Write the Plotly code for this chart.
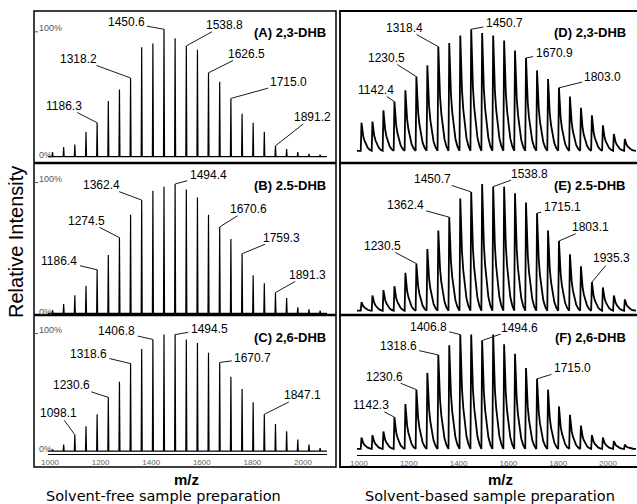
import plotly.graph_objects as go

# ---------------- data ----------------
MZ = [1010.0, 1054.0, 1098.1, 1142.3, 1186.3, 1230.5, 1274.5, 1318.5, 1362.4,
      1406.7, 1450.6, 1494.5, 1538.8, 1582.8, 1626.5, 1670.7, 1715.0, 1759.2,
      1803.0, 1847.1, 1891.2, 1935.3, 1979.4, 2023.5, 2067.6]

INT_A = [4, 8, 10, 20, 27, 44, 53, 62, 86, 89, 100, 93, 87, 84, 66, 59, 46, 34, 27, 20, 9, 6.5, 4, 2.6, 2]
INT_B = [3, 7.5, 14, 21, 33, 44, 57, 74, 85, 92, 95, 97, 93, 87, 74, 65, 56, 45, 29, 23, 16, 12, 5, 3.5, 2.5]
INT_C = [2, 6, 14, 21, 31, 45, 58, 73, 85, 93, 97, 97, 93, 90, 82, 74, 62, 52, 41, 31, 23, 17, 10, 6, 3]
INT_D = [24, 25, 34, 41, 50, 61, 70, 85, 88, 94, 99, 96, 94, 90, 82, 76, 66, 59, 52, 45, 36, 30, 22, 15, 11]
INT_E = [8, 13, 17, 20, 30, 37, 48, 62, 72, 86, 91, 97, 95, 95, 90, 83, 75, 62, 54, 44, 35, 23, 19, 13, 10]
INT_F = [11, 13, 16, 28, 39, 51, 65, 80, 88, 97, 97, 92, 97, 89, 81, 69, 60, 51, 37, 30, 21, 13, 11, 8, 5]

TITLES = ["(A) 2,3-DHB", "(B) 2.5-DHB", "(C) 2,6-DHB",
          "(D) 2,3-DHB", "(E) 2.5-DHB", "(F) 2,6-DHB"]

# (label, peak index, text dx px, text dy px)
LAB_A = [("1186.3", 4, -33, -17), ("1318.2", 7, -52, -19), ("1450.6", 10, -38, -7),
         ("1538.8", 12, 38, -21), ("1626.5", 14, 38, -19), ("1715.0", 16, 58, -16),
         ("1891.2", 20, 37, -29)]
LAB_B = [("1186.4", 4, -38, -9), ("1274.5", 6, -33, -17), ("1362.4", 8, -40, -15),
         ("1494.4", 11, 33, -9), ("1670.6", 15, 29, -18), ("1759.3", 17, 39, -16),
         ("1891.3", 20, 32, -18)]
LAB_C = [("1098.1", 2, -16, -22), ("1230.6", 5, -37, -12), ("1318.6", 7, -42, -10),
         ("1406.8", 9, -36, -8), ("1494.5", 11, 34, -6), ("1670.7", 15, 33, -4),
         ("1847.1", 19, 38, -19)]
LAB_D = [("1142.4", 3, -18, -12), ("1230.5", 5, -30, -19), ("1318.4", 7, -34, -19),
         ("1450.7", 10, 33, -6), ("1670.9", 15, 28, -5), ("1803.0", 18, 44, -11)]
LAB_E = [("1230.5", 5, -34, -18), ("1362.4", 8, -44, -12), ("1450.7", 10, -39, -13),
         ("1538.8", 12, 36, -13), ("1715.1", 16, 25, -6), ("1803.1", 18, 32, -14),
         ("1935.3", 21, 20, -24)]
LAB_F = [("1142.3", 3, -23, -12), ("1230.6", 5, -32, -13), ("1318.6", 7, -40, -9),
         ("1406.8", 9, -32, -8), ("1494.6", 11, 37, -13), ("1715.0", 16, 35, -11)]

TICKS = [1000, 1200, 1400, 1600, 1800, 2000]

# ---------------- layout geometry (pixels) ----------------
W, H = 637, 504
def fx(p): return p / W
def fy(p): return 1 - p / H

# column: (x0, x1, px of m/z 1000, px per unit)
COLS = [(48, 327, 50.0, 0.253), (357, 636, 359.0, 0.249)]
# panel: (top, bottom, baseline px, 100% px)
PANELS = [
    [(12, 162, 157.3, 29.3), (164, 314.5, 314.0, 180.0), (316, 454, 451.7, 331.0)],
    [(12, 162, 152.7, 28.0), (164, 314.5, 312.7, 180.0), (316, 455, 450.7, 331.0)],
]

# peak profiles (style)
STICK_DX = [-2.0, 0.0, 2.0]
STICK_FR = [0.0, 1.0, 0.0]
TAIL_DX = [-3.0, 0.0, 3.0, 7.0, 12.0, 18.0, 25.0, 33.0, 40.0]
TAIL_FR = [0.0, 1.0, 0.72, 0.52, 0.36, 0.22, 0.11, 0.04, 0.0]

FONT = "Liberation Sans, Arial, sans-serif"
LABEL_SIZE = 12

def spectrum(heights, dxs, frs, base, lo, hi):
    xs, ys = [lo], [base]
    for m, h in zip(MZ, heights):
        for dx, fr in zip(dxs, frs):
            xs.append(m + dx)
            ys.append(base + (h - base) * fr)
    xs.append(hi)
    ys.append(base)
    return xs, ys

def paper_text(x, y, text, size, color="black", family=FONT, xanchor="center",
               yanchor="middle", angle=0):
    return dict(x=fx(x), y=fy(y), xref="paper", yref="paper", text=text,
                showarrow=False, xanchor=xanchor, yanchor=yanchor, textangle=angle,
                font=dict(family=family, size=size, color=color))

def leader_tail(txt, dx, dy):
    # point on the label box edge, on the line from the label centre to the peak
    hw = 0.5 * LABEL_SIZE * (0.556 * sum(ch.isdigit() for ch in txt) + 0.278 * txt.count(".")) + 1
    hh = 6.0
    t = min(hw / abs(dx) if dx else 9e9, hh / abs(dy) if dy else 9e9)
    t = min(t, 1.0)
    return dx * (1 - t), dy * (1 - t)

fig = go.Figure()
data_sets = [[INT_A, INT_B, INT_C], [INT_D, INT_E, INT_F]]
labels = [[LAB_A, LAB_B, LAB_C], [LAB_D, LAB_E, LAB_F]]
annotations = []
k = 0
for c in range(2):
    x0, x1, p1000, sc = COLS[c]
    xlo = 1000 - (p1000 - x0) / sc
    xhi = 1000 + (x1 - p1000) / sc
    for r in range(3):
        k += 1
        T, B, base, p100 = PANELS[c][r]
        s = (base - p100) / 100.0
        ylo = -(B - base) / s
        yhi = (base - T) / s
        xa = "x" if k == 1 else f"x{k}"
        ya = "y" if k == 1 else f"y{k}"
        xkey = "xaxis" if k == 1 else f"xaxis{k}"
        ykey = "yaxis" if k == 1 else f"yaxis{k}"
        bottom = (r == 2)
        fig.update_layout(**{
            xkey: dict(domain=[fx(x0), fx(x1)], range=[xlo, xhi], anchor=ya,
                       visible=bottom, showgrid=False, zeroline=False, automargin=False,
                       showline=bottom, linecolor="black", linewidth=1,
                       tickvals=TICKS, ticks="", ticklen=2,
                       tickfont=dict(family=FONT, size=8, color="#666666")),
            ykey: dict(domain=[fy(B), fy(T)], range=[ylo, yhi], anchor=xa, automargin=False,
                       visible=False, showgrid=False, zeroline=False),
        })
        if c == 0:
            xs, ys = spectrum(data_sets[c][r], STICK_DX, STICK_FR, 0.5, xlo, xhi)
            lw = 1.2
        else:
            xs, ys = spectrum(data_sets[c][r], TAIL_DX, TAIL_FR, 1.5, xlo, xhi)
            lw = 1.8
        fig.add_trace(go.Scatter(x=xs, y=ys, mode="lines", xaxis=xa, yaxis=ya,
                                 line=dict(color="black", width=lw), hoverinfo="skip",
                                 showlegend=False))
        for txt, idx, dx, dy in labels[c][r]:
            px, py = MZ[idx], data_sets[c][r][idx]
            tx_, ty_ = leader_tail(txt, dx, dy)
            annotations.append(dict(x=px, y=py, xref=xa, yref=ya, text="",
                                    showarrow=True, arrowhead=0, arrowwidth=0.9,
                                    arrowcolor="black", ax=tx_, ay=ty_, axref="pixel",
                                    ayref="pixel", standoff=0, startstandoff=0))
            annotations.append(dict(x=px, y=py, xref=xa, yref=ya, text=txt,
                                    showarrow=False, xshift=dx, yshift=-dy,
                                    xanchor="center", yanchor="middle",
                                    font=dict(family=FONT, size=LABEL_SIZE, color="black")))
        tx = 290 if c == 0 else 590
        annotations.append(paper_text(tx, T + 21, "<b>" + TITLES[k - 1] + "</b>", 13))
        if c == 0:
            annotations.append(paper_text(37, p100 - 1, "100%", 9, "#555555",
                                          xanchor="left"))
            annotations.append(paper_text(37, base - 2.5, "0%", 9, "#555555",
                                          xanchor="left"))

shapes = []
shapes.append(dict(type="rect", xref="paper", yref="paper", x0=fx(34), x1=fx(336),
                   y0=fy(467), y1=fy(11), line=dict(color="black", width=1.5)))
shapes.append(dict(type="rect", xref="paper", yref="paper", x0=fx(340), x1=fx(650),
                   y0=fy(467), y1=fy(11), line=dict(color="black", width=1.8)))
for yy in (163, 315):
    for xa0, xa1 in ((34, 336), (340, 650)):
        shapes.append(dict(type="line", xref="paper", yref="paper", x0=fx(xa0), x1=fx(xa1),
                           y0=fy(yy), y1=fy(yy), line=dict(color="black", width=2.5)))
for T, B, base, p100 in PANELS[0]:
    shapes.append(dict(type="line", xref="paper", yref="paper", x0=fx(34), x1=fx(38),
                       y0=fy(p100 + 2.5), y1=fy(p100 + 2.5), line=dict(color="#555555", width=1)))

annotations += [
    paper_text(16, 242, "Relative Intensity", 20, angle=-90),
    paper_text(186, 479, "<b>m/z</b>", 15),
    paper_text(500, 479, "<b>m/z</b>", 15),
    paper_text(163, 496, "Solvent-free sample preparation", 14.5, family="DejaVu Sans"),
    paper_text(490, 496, "Solvent-based sample preparation", 14.5, family="DejaVu Sans"),
]

fig.update_layout(width=W, height=H, autosize=False, margin=dict(l=0, r=0, t=0, b=0, pad=0),
                  paper_bgcolor="white", plot_bgcolor="rgba(0,0,0,0)",
                  annotations=annotations, shapes=shapes, showlegend=False)

fig.write_html("out.html", config={"displayModeBar": False},
               post_script="document.body.style.margin='0';document.body.style.overflow='hidden';")
